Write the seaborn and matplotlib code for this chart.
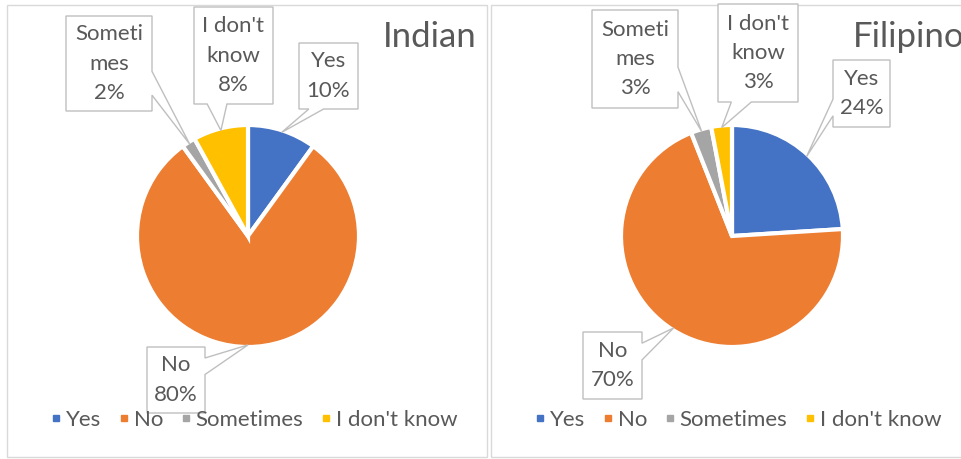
import numpy as np
import matplotlib
matplotlib.use("Agg")
import matplotlib.pyplot as plt
from matplotlib.patches import Polygon, Rectangle
from matplotlib.lines import Line2D
import seaborn as sns

# Survey answers (percent of respondents)
categories = ["Yes", "No", "Sometimes", "I don't know"]
indian_pct = [10, 80, 2, 8]
filipino_pct = [24, 70, 3, 3]
titles = ["Indian", "Filipino"]

# How the category names wrap inside the callout boxes
wrapped_names = {
    "Yes": ["Yes"],
    "No": ["No"],
    "Sometimes": ["Someti", "mes"],
    "I don't know": ["I don't", "know"],
}

sns.set_theme(style="white")
plt.rcParams["font.family"] = ["Lato", "DejaVu Sans"]
office = sns.color_palette(["#4472C4", "#ED7D31", "#A5A5A5", "#FFC000"])
TEXT = "#595959"
FRAME = "#D9D9D9"
BOX_EDGE = "#BFBFBF"

W, H = 961, 459
fig = plt.figure(figsize=(W / 100, H / 100), dpi=100)
ax = fig.add_axes([0, 0, 1, 1])


def Y(py):
    """Convert a top-down pixel row to the axes' y coordinate."""
    return H - py


# panel layout (pixels, top-left origin)
panels = [
    dict(frame=(7, 5, 487, 457), center=(248, 236), title_x=477, title_ha="right",
         legend_cx=254,
         boxes={"Yes": (299, 43, 358, 109), "No": (147, 347, 205, 413),
                "Sometimes": (66, 16, 152, 111), "I don't know": (194, 7, 273, 104)}),
    dict(frame=(491, 5, 968, 457), center=(732, 236), title_x=853, title_ha="left",
         legend_cx=738,
         boxes={"Yes": (833, 60, 890, 127), "No": (583, 332, 642, 399),
                "Sometimes": (592, 10, 678, 108), "I don't know": (718, 4, 798, 102)}),
]
R = 111
EDGE_LW = 3.0
LINE_PITCH = 29.5
FS = 16


def callout_points(x0, y0, x1, y1, tx, ty):
    """Rectangle with a wedge pointer towards (tx, ty), pixel coordinates."""
    w, h = x1 - x0, y1 - y0
    hc, vc = (x0 + x1) / 2, (y0 + y1) / 2
    dx, dy = tx - hc, ty - vc
    dq = dx * h / w
    if abs(dy) > abs(dq):
        a, b = ((x0 + w * 7 / 12, x0 + w * 10 / 12) if dx > 0
                else (x0 + w * 2 / 12, x0 + w * 5 / 12))
        if dy > 0:
            pts = [(x0, y0), (x1, y0), (x1, y1), (b, y1), (tx, ty), (a, y1), (x0, y1)]
        else:
            pts = [(x0, y0), (a, y0), (tx, ty), (b, y0), (x1, y0), (x1, y1), (x0, y1)]
    else:
        a, b = ((y0 + h * 7 / 12, y0 + h * 10 / 12) if dy > 0
                else (y0 + h * 2 / 12, y0 + h * 5 / 12))
        if dx > 0:
            pts = [(x0, y0), (x1, y0), (x1, a), (tx, ty), (x1, b), (x1, y1), (x0, y1)]
        else:
            pts = [(x0, y0), (x1, y0), (x1, y1), (x0, y1), (x0, b), (tx, ty), (x0, a)]
    return [(px, Y(py)) for px, py in pts]


for values, title, panel in zip([indian_pct, filipino_pct], titles, panels):
    fx0, fy0, fx1, fy1 = panel["frame"]
    ax.add_patch(Rectangle((fx0, Y(fy1)), fx1 - fx0, fy1 - fy0, fill=False,
                           edgecolor=FRAME, linewidth=1.0, zorder=0))

    cx, cy = panel["center"]
    wedges, _ = ax.pie(values, colors=office, center=(cx, Y(cy)), radius=R,
                       startangle=90, counterclock=False, frame=True,
                       wedgeprops=dict(edgecolor="white", linewidth=EDGE_LW))

    ax.text(panel["title_x"], Y(37), title, ha=panel["title_ha"], va="center",
            fontsize=25, color=TEXT, zorder=5)

    r_vis = R - EDGE_LW * 100 / 72 / 2
    for cat, val, wedge in zip(categories, values, wedges):
        mid = np.deg2rad((wedge.theta1 + wedge.theta2) / 2)
        tx = cx + r_vis * np.cos(mid)
        ty = cy - r_vis * np.sin(mid)
        x0, y0, x1, y1 = panel["boxes"][cat]
        ax.add_patch(Polygon(callout_points(x0, y0, x1, y1, tx, ty), closed=True,
                             facecolor="white", edgecolor=BOX_EDGE, linewidth=1.0,
                             zorder=3))
        lines = wrapped_names[cat] + [f"{val}%"]
        ymid = (y0 + y1) / 2
        for i, line in enumerate(lines):
            off = (i - (len(lines) - 1) / 2) * LINE_PITCH
            ax.text((x0 + x1) / 2, Y(ymid + off), line, ha="center", va="center",
                    fontsize=FS, color=TEXT, zorder=4)

    handles = [Line2D([], [], marker="s", linestyle="", markersize=4.5,
                      markerfacecolor=c, markeredgecolor=c) for c in office]
    fig.legend(handles, categories, ncol=4, loc="center",
               bbox_to_anchor=(panel["legend_cx"] / W, Y(420) / H),
               frameon=False, fontsize=FS, labelcolor=TEXT,
               handlelength=0.5, handletextpad=0.2, columnspacing=0.76)

ax.set_xlim(0, W)
ax.set_ylim(0, H)
ax.set_aspect("auto")
ax.axis("off")

fig.savefig("out.png", dpi=100, facecolor="white")
